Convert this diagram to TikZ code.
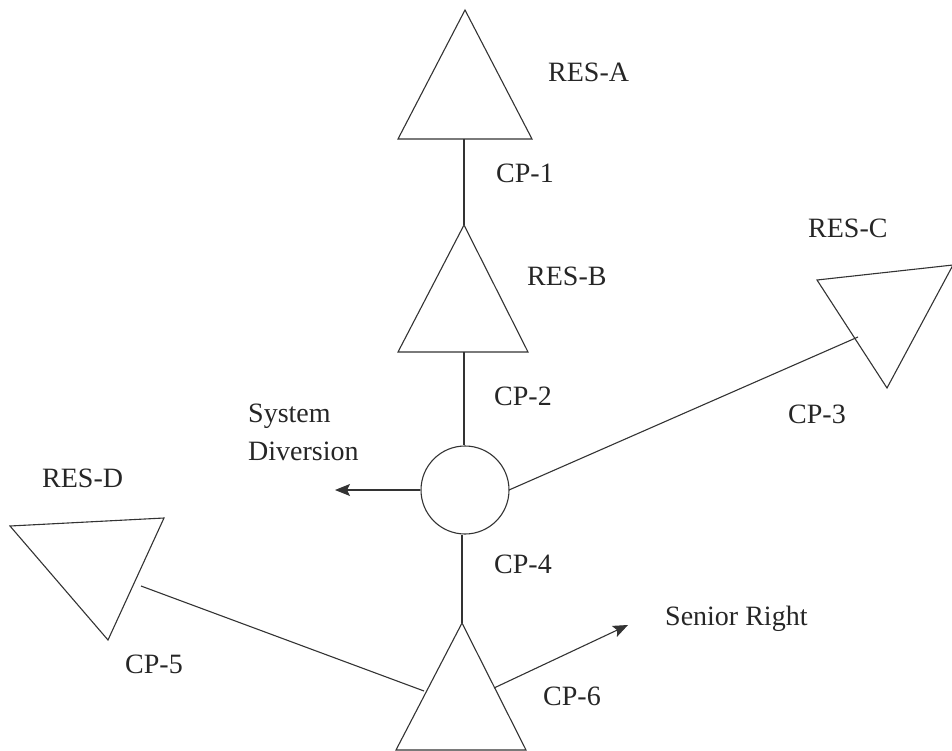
\documentclass[tikz,border=0pt]{standalone}
\usepackage{fontspec}
\setmainfont{Liberation Serif}
\usetikzlibrary{arrows.meta}
\begin{document}
\begin{tikzpicture}[x=1pt,y=-1pt,
  ln/.style={line width=1.1pt,draw=black!80},
  res/.style={ln,line join=miter},
  arr/.style={ln,-{Stealth[length=15pt,width=12pt,inset=3pt]}},
  lbl/.style={inner sep=0pt,anchor=base west,font=\fontsize{28}{38}\selectfont,text=black!85},
  junc/.style={circle,ln,minimum size=88pt,inner sep=0pt}]
\useasboundingbox (0,0) rectangle (952,751);
% reservoirs (triangles)
\coordinate (Aapex) at (465,10);
\coordinate (Abase) at (464,139);
\draw[res] (Aapex) -- (532,139) -- (398,139) -- cycle;
\coordinate (Bapex) at (464,225);
\coordinate (Bbase) at (464,352);
\draw[res] (Bapex) -- (528,352) -- (398,352) -- cycle;
\draw[res] (817,280) -- (953,265) -- (887,388) -- cycle;
\coordinate (Cin) at (858,337);
\draw[res] (10,526) -- (164,518) -- (108,640) -- cycle;
\coordinate (Dout) at (141,586);
\coordinate (Eapex) at (462,623);
\draw[res] (Eapex) -- (526,750) -- (396,750) -- cycle;
\coordinate (Ein) at (424,691);
\coordinate (Eout) at (494,688);
% junction
\node[junc] (div) at (465,490) {};
\coordinate (divE) at (509,490);
\coordinate (sysTip) at (335,490);
\coordinate (senTip) at (628,625);
% connectors
\draw[ln] (Abase) -- (Bapex);
\draw[ln] (Bbase) -- (Bbase |- div.north);
\draw[ln] (Eapex |- div.south) -- (Eapex);
\draw[ln] (divE) -- (Cin);
\draw[ln] (Dout) -- (Ein);
\draw[arr] (div.west) -- (sysTip);
\draw[arr] (Eout) -- (senTip);
% labels
\node[lbl] (la) at (548,82) {RES-A};
\node[lbl] (l1) at (496,183) {CP-1};
\node[lbl] (lb) at (527,285) {RES-B};
\node[lbl] (l2) at (494,405) {CP-2};
\node[lbl] (lc) at (808,237) {RES-C};
\node[lbl] (l3) at (788,423) {CP-3};
\node[lbl] (ls1) at (248,422) {System};
\node[lbl] (ls2) at (248,460) {Diversion};
\node[lbl] (ld) at (42,487) {RES-D};
\node[lbl] (l4) at (494,573) {CP-4};
\node[lbl] (l5) at (125,673) {CP-5};
\node[lbl] (lsr) at (665,625) {Senior Right};
\node[lbl] (l6) at (543,705) {CP-6};
\end{tikzpicture}
\end{document}
